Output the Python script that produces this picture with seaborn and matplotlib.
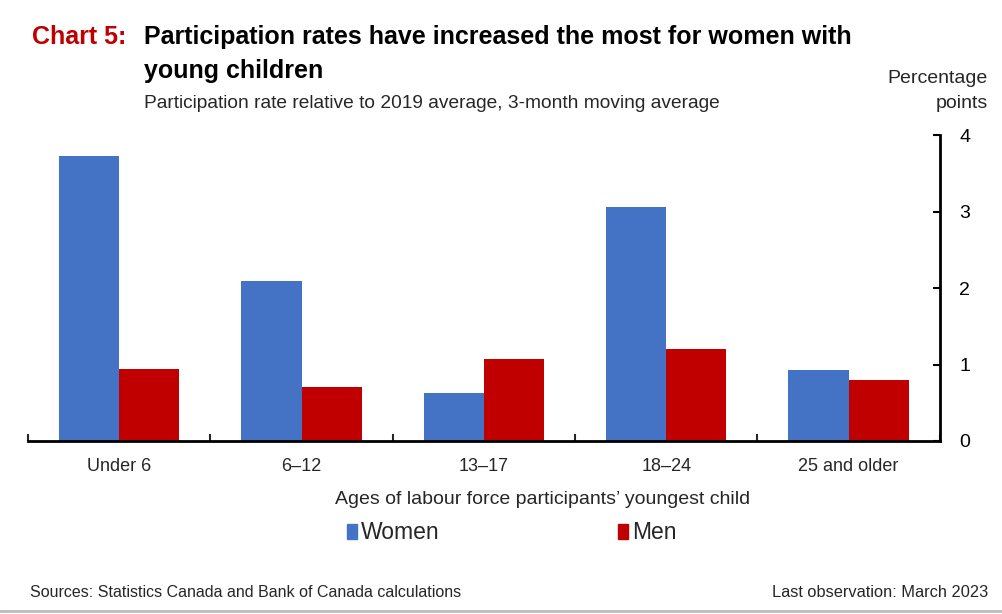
import matplotlib
matplotlib.use("Agg")
import matplotlib.pyplot as plt
import seaborn as sns
import pandas as pd
from matplotlib.patches import Rectangle
from matplotlib.lines import Line2D

categories = ["Under 6", "6\u201312", "13\u201317", "18\u201324", "25 and older"]
women = [3.73, 2.09, 0.63, 3.06, 0.93]
men = [0.94, 0.71, 1.07, 1.20, 0.80]
series = ["Women", "Men"]
yticks = [0, 1, 2, 3, 4]

df = pd.DataFrame({
    "cat": categories * 2,
    "val": women + men,
    "sex": ["Women"] * len(categories) + ["Men"] * len(categories),
})

sns.set_theme(style="white")
FONT = ["Liberation Sans Narrow", "Liberation Sans", "DejaVu Sans"]
plt.rcParams["font.family"] = FONT

BLUE = "#4472C4"
RED = "#C00000"

fig = plt.figure(figsize=(10.03, 6.14), dpi=100)
ax = fig.add_axes([0.028, 0.2818, 0.909, 0.498])

sns.barplot(data=df, x="cat", y="val", hue="sex", hue_order=series,
            palette=[BLUE, RED], width=0.66, saturation=1, ax=ax,
            legend=False, edgecolor="none")

ax.set_xlim(-0.5, len(categories) - 0.5)
ax.set_ylim(0, 4)
ax.set_yticks(yticks)
ax.yaxis.tick_right()
ax.tick_params(axis="y", direction="in", length=5, width=1.5, labelsize=14,
               pad=14, colors="black", right=True, left=False)
ax.set_xticks(range(len(categories)))
ax.set_xticklabels(categories, fontsize=13)
ax.set_xticks([i - 0.5 for i in range(len(categories) + 1)], minor=True)
ax.tick_params(axis="x", which="major", length=0, pad=12)
ax.tick_params(axis="x", which="minor", direction="in", length=5, width=1.5,
               bottom=True)
for s in ["top", "left"]:
    ax.spines[s].set_visible(False)
for s in ["bottom", "right"]:
    ax.spines[s].set_visible(True)
    ax.spines[s].set_color("black")
    ax.spines[s].set_linewidth(2)
ax.set_xlabel("Ages of labour force participants\u2019 youngest child",
              fontsize=14, labelpad=8)
ax.xaxis.set_label_coords(0.564, -0.163)
ax.set_ylabel("")
ax.grid(False)

# Legend
handles = [Rectangle((0, 0), 1, 1, color=BLUE), Rectangle((0, 0), 1, 1, color=RED)]
fig.legend(handles, series, loc="center left", bbox_to_anchor=(0.346, 0.132),
           ncol=2, frameon=False, fontsize=16.5, handlelength=0.45,
           handleheight=0.6, handletextpad=0.15, columnspacing=7.8,
           borderpad=0, borderaxespad=0)

# Titles
fig.text(0.032, 0.928, "Chart 5:", color=RED, fontsize=18, fontweight="bold",
         ha="left", va="baseline")
fig.text(0.144, 0.928, "Participation rates have increased the most for women with",
         color="black", fontsize=18, fontweight="bold", ha="left", va="baseline")
fig.text(0.144, 0.873, "young children", color="black", fontsize=18,
         fontweight="bold", ha="left", va="baseline")
fig.text(0.144, 0.824, "Participation rate relative to 2019 average, 3-month moving average",
         fontsize=13.8, ha="left", va="baseline")
fig.text(0.985, 0.865, "Percentage", fontsize=14, ha="right", va="baseline")
fig.text(0.985, 0.824, "points", fontsize=14, ha="right", va="baseline")

# Footer
fig.text(0.03, 0.028, "Sources: Statistics Canada and Bank of Canada calculations",
         fontsize=11.5, ha="left", va="baseline")
fig.text(0.985, 0.028, "Last observation: March 2023", fontsize=11.8,
         ha="right", va="baseline")
fig.add_artist(Line2D([0, 1], [0.005, 0.005], color="#BBBBBB", lw=2,
                      transform=fig.transFigure))

fig.savefig("out.png", dpi=100)
